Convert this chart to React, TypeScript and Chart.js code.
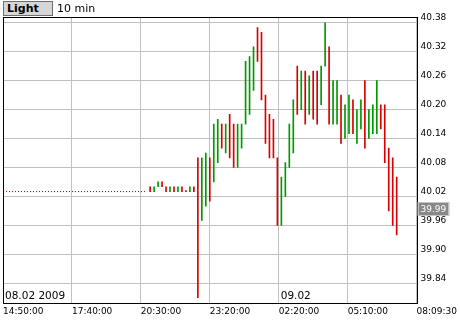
import { useEffect, useRef } from 'react';
import { Chart, registerables } from 'chart.js';

Chart.register(...registerables);

// ---- data ----
const symbolName = 'Light';
const intervalName = '10 min';
const barStart = 37; // index (10-min slot) of first bar
const highs = [
  40.04, 40.04, 40.05, 40.05, 40.04, 40.04, 40.04, 40.04, 40.04, 40.03,
  40.04, 40.04, 40.10, 40.10, 40.11, 40.10, 40.17, 40.18, 40.17, 40.17,
  40.19, 40.17, 40.17, 40.17, 40.30, 40.31, 40.33, 40.37, 40.36, 40.23,
  40.19, 40.18, 40.10, 40.06, 40.09, 40.17, 40.22, 40.29, 40.28, 40.28,
  40.27, 40.28, 40.28, 40.29, 40.38, 40.33, 40.26, 40.26, 40.23, 40.21,
  40.23, 40.22, 40.20, 40.22, 40.26, 40.20, 40.21, 40.26, 40.21, 40.21,
  40.12, 40.10, 40.06,
];
const lows = [
  40.03, 40.03, 40.04, 40.04, 40.03, 40.03, 40.03, 40.03, 40.03, 40.03,
  40.03, 40.03, 39.81, 39.97, 40.00, 40.01, 40.05, 40.09, 40.12, 40.11,
  40.10, 40.08, 40.08, 40.12, 40.17, 40.19, 40.24, 40.30, 40.22, 40.13,
  40.10, 40.10, 39.96, 39.96, 40.02, 40.08, 40.11, 40.19, 40.20, 40.17,
  40.19, 40.18, 40.17, 40.21, 40.29, 40.17, 40.17, 40.17, 40.13, 40.14,
  40.15, 40.15, 40.13, 40.16, 40.12, 40.14, 40.15, 40.15, 40.16, 40.09,
  39.99, 39.96, 39.94,
];
// u = up bar, d = down bar
const directions = [
  'd', 'u', 'u', 'd', 'd', 'u', 'd', 'u', 'd', 'd',
  'u', 'd', 'd', 'u', 'u', 'd', 'u', 'u', 'd', 'u',
  'd', 'd', 'u', 'u', 'u', 'u', 'u', 'd', 'd', 'd',
  'd', 'd', 'd', 'u', 'u', 'u', 'u', 'd', 'u', 'd',
  'u', 'd', 'd', 'u', 'u', 'd', 'u', 'u', 'd', 'u',
  'u', 'd', 'u', 'u', 'd', 'u', 'u', 'u', 'd', 'd',
  'd', 'd', 'd',
];
const prevClose = 40.03;
const prevCloseUntil = 36;
const lastPrice = 39.99;
const xTickLabels = ['14:50:00', '17:40:00', '20:30:00', '23:20:00', '02:20:00', '05:10:00', '08:09:30'];
const yTickValues = [39.84, 39.90, 39.96, 40.02, 40.08, 40.14, 40.20, 40.26, 40.32, 40.38];
const dateLabels = ['08.02 2009', '09.02'];
const dateLabelTickIndex = [0, 4];
const xMax = 104;
const yMin = 39.799;
const yMax = 40.392;

const UP = '#009900';
const DOWN = '#d80000';
const FONT = 'DejaVu Sans';

const tickPos = (i: number) => (i * xMax) / (xTickLabels.length - 1);

const overlayPlugin = {
  id: 'overlay',
  afterDraw(chart: any) {
    const { ctx, chartArea: a, scales } = chart;
    ctx.save();
    // frame
    ctx.strokeStyle = '#000';
    ctx.lineWidth = 1;
    const l = Math.round(a.left) + 0.5;
    const t = Math.round(a.top) + 0.5;
    const r = Math.round(a.right) + 0.5;
    const b = Math.round(a.bottom) + 0.5;
    ctx.strokeRect(l, t, r - l, b - t);
    // date labels
    ctx.fillStyle = '#000';
    ctx.font = `10.5px "${FONT}"`;
    ctx.textAlign = 'left';
    ctx.textBaseline = 'alphabetic';
    dateLabels.forEach((txt, i) => {
      const x = scales.x.getPixelForValue(tickPos(dateLabelTickIndex[i]));
      ctx.fillText(txt, x + 2, a.bottom - 4);
    });
    // last price marker
    const y = Math.round(scales.y.getPixelForValue(lastPrice) - 1.5);
    ctx.fillStyle = '#888888';
    ctx.fillRect(r + 1, y - 6, 30, 12);
    ctx.strokeStyle = '#c4c4c4';
    ctx.strokeRect(r + 0.5, y - 6.5, 31, 13);
    ctx.fillStyle = '#fff';
    ctx.font = `9px "${FONT}"`;
    ctx.textBaseline = 'middle';
    ctx.fillText(lastPrice.toFixed(2), r + 3, y + 0.5);
    ctx.restore();
  },
};

export default function App() {
  const ref = useRef<HTMLCanvasElement>(null);
  useEffect(() => {
    if (!ref.current) return;
    Chart.defaults.font.family = FONT;
    const barData = highs.map((h, i) => ({ x: barStart + i, y: [lows[i], h] }));
    const chart = new Chart(ref.current, {
      type: 'bar',
      data: {
        datasets: [
          {
            type: 'bar',
            data: barData as any,
            backgroundColor: directions.map((d) => (d === 'u' ? UP : DOWN)),
            barThickness: 1,
            minBarLength: 1,
            borderWidth: 0,
          },
          {
            type: 'line',
            data: [
              { x: 0, y: prevClose },
              { x: prevCloseUntil, y: prevClose },
            ] as any,
            borderColor: '#a00000',
            borderWidth: 1,
            borderDash: [1, 2],
            pointRadius: 0,
          },
        ],
      },
      options: {
        animation: false,
        responsive: false,
        layout: { padding: { top: 17, left: 3, right: 0, bottom: 0 } },
        plugins: { legend: { display: false }, tooltip: { enabled: false } },
        scales: {
          x: {
            type: 'linear',
            min: 0,
            max: xMax,
            offset: false,
            afterBuildTicks: (s: any) => {
              s.ticks = xTickLabels.map((_, i) => ({ value: tickPos(i) }));
            },
            afterFit: (s: any) => {
              s.height = 17;
            },
            grid: { color: '#c0c0c0', drawTicks: false, offset: false },
            border: { display: false },
            ticks: {
              align: 'start',
              padding: 3,
              maxRotation: 0,
              autoSkip: false,
              color: '#000',
              font: { family: FONT, size: 9 },
              callback: (_v: any, i: number) => xTickLabels[i],
            },
          },
          y: {
            position: 'right',
            min: yMin,
            max: yMax,
            afterBuildTicks: (s: any) => {
              s.ticks = yTickValues.map((v) => ({ value: v }));
            },
            afterFit: (s: any) => {
              s.width = 43;
            },
            grid: { color: '#c0c0c0', drawTicks: false },
            border: { display: false },
            ticks: {
              padding: 4,
              labelOffset: -5,
              color: '#000',
              font: { family: FONT, size: 9 },
              callback: (v: any) => Number(v).toFixed(2),
            },
          },
        },
      },
      plugins: [overlayPlugin],
    });
    return () => chart.destroy();
  }, []);

  return (
    <div style={{ position: 'absolute', left: 0, top: 0, width: 460, height: 320, background: '#fff' }}>
      <canvas ref={ref} width={460} height={320} style={{ display: 'block' }} />
      <div
        style={{
          position: 'absolute',
          left: 3,
          top: 1,
          width: 45,
          height: 13,
          paddingLeft: 3,
          border: '1px solid #6e6e6e',
          background: '#d6d6d6',
          font: `bold 11px "${FONT}"`,
          lineHeight: '13px',
          color: '#000',
        }}
      >
        {symbolName}
      </div>
      <div
        style={{
          position: 'absolute',
          left: 57,
          top: 1,
          height: 15,
          font: `11px "${FONT}"`,
          lineHeight: '15px',
          color: '#000',
          whiteSpace: 'nowrap',
        }}
      >
        {intervalName}
      </div>
    </div>
  );
}
